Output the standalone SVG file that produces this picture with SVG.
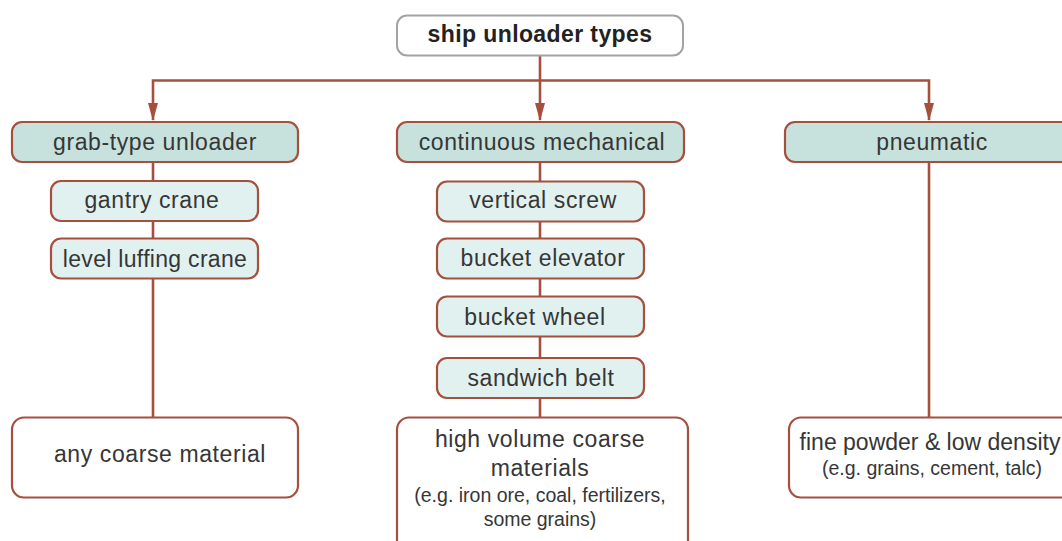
<svg xmlns="http://www.w3.org/2000/svg" width="1062" height="541" viewBox="0 0 1062 541">
<defs>
<style>
.t{font-family:"Liberation Sans",Arial,sans-serif;font-size:23px;fill:#363636;text-anchor:middle;letter-spacing:0.6px}
.s{font-size:19.5px;letter-spacing:0}
.n{letter-spacing:0}
.b{font-weight:bold;fill:#222;letter-spacing:0.4px}
.l1{fill:#c7e1dd;stroke:#a5503f;stroke-width:2.2}
.l2{fill:#e1f1ef;stroke:#a5503f;stroke-width:2.2}
.l3{fill:#fff;stroke:#a5503f;stroke-width:2.2}
.c{stroke:#a5503f;stroke-width:2.6;fill:none}
</style>
</defs>
<rect width="1062" height="541" fill="#fff"/>
<g id="connectors">
<path class="c" d="M153,120 V80.5 H929 V120"/>
<path class="c" d="M540,56 V120"/>
<path d="M148,103 L158,103 L153,121 Z M535,103 L545,103 L540,121 Z M924,103 L934,103 L929,121 Z" fill="#a5503f"/>
<path class="c" d="M153,162 V417"/>
<path class="c" d="M540,162 V417"/>
<path class="c" d="M929,162 V417"/>
</g>
<g id="root">
<rect x="397" y="15.5" width="286" height="40" rx="10" fill="#fff" stroke="#a3a3a3" stroke-width="2"/>
<text class="t b" x="540" y="42">ship unloader types</text>
</g>
<g id="grab">
<rect class="l1" x="12" y="122" width="286" height="40" rx="10"/>
<text class="t" x="155" y="150">grab-type unloader</text>
</g>
<g id="continuous">
<rect class="l1" x="397" y="122" width="287" height="40" rx="10"/>
<text class="t" x="542" y="150">continuous mechanical</text>
</g>
<g id="pneumatic">
<rect class="l1" x="785" y="122" width="294" height="40" rx="10"/>
<text class="t" x="932" y="150">pneumatic</text>
</g>
<g id="gantry">
<rect class="l2" x="51" y="181" width="207" height="40" rx="10"/>
<text class="t" x="152" y="208">gantry crane</text>
</g>
<g id="luffing">
<rect class="l2" x="51" y="238.5" width="207" height="40" rx="10"/>
<text class="t" x="155" y="267" style="letter-spacing:0.3px">level luffing crane</text>
</g>
<g id="screw">
<rect class="l2" x="437" y="181.5" width="207" height="40" rx="10"/>
<text class="t" x="543" y="208">vertical screw</text>
</g>
<g id="elevator">
<rect class="l2" x="437" y="238.5" width="207" height="40" rx="10"/>
<text class="t" x="543" y="266">bucket elevator</text>
</g>
<g id="wheel">
<rect class="l2" x="437" y="296.5" width="207" height="40" rx="10"/>
<text class="t" x="535" y="325">bucket wheel</text>
</g>
<g id="belt">
<rect class="l2" x="437" y="358" width="207" height="40" rx="10"/>
<text class="t" x="541" y="386">sandwich belt</text>
</g>
<g id="coarse">
<rect class="l3" x="12" y="417.5" width="286" height="80" rx="12"/>
<text class="t" x="160" y="462">any coarse material</text>
</g>
<g id="highvolume">
<rect class="l3" x="397" y="417.5" width="291" height="140" rx="12"/>
<text class="t" x="540" y="447">high volume coarse</text>
<text class="t" x="540" y="476">materials</text>
<text class="t s" x="540" y="502">(e.g. iron ore, coal, fertilizers,</text>
<text class="t s" x="540" y="526">some grains)</text>
</g>
<g id="fine">
<rect class="l3" x="789" y="417.5" width="287" height="80" rx="12"/>
<text class="t n" x="930" y="450">fine powder &amp; low density</text>
<text class="t s" x="932" y="475">(e.g. grains, cement, talc)</text>
</g>
</svg>
